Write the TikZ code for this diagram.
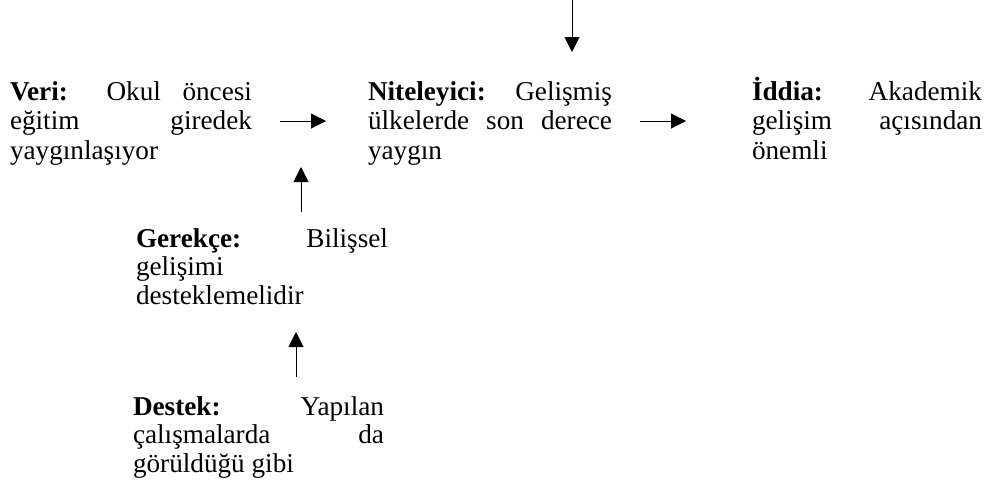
\documentclass[tikz,border=0pt]{standalone}
\usepackage{fontspec}
\setmainfont{Liberation Serif}
\usetikzlibrary{arrows.meta}
\tolerance=10000
\hbadness=10000
\hyphenpenalty=10000
\exhyphenpenalty=10000
\begin{document}
\begin{tikzpicture}[x=1pt,y=-1pt,
  txt/.style={anchor=base west,inner sep=0pt,outer sep=0pt,align=justify,
    font=\fontsize{27.2}{29.5}\selectfont},
  arr/.style={line width=1pt,-{Triangle[length=15pt,width=15pt]}}]
\useasboundingbox (0,0) rectangle (998,493);
\node[txt,text width=242pt] (veri) at (10,100)
  {\textbf{Veri:} Okul öncesi\linebreak eğitim giredek\linebreak yaygınlaşıyor};
\node[txt,text width=244pt] (nit) at (368,100)
  {\textbf{Niteleyici:} Gelişmiş\linebreak ülkelerde son derece\linebreak yaygın};
\node[txt,text width=230pt] (idd) at (752,100)
  {\textbf{İddia:} Akademik\linebreak gelişim açısından\linebreak önemli};
\node[txt,text width=252pt,font=\fontsize{27.2}{28.5}\selectfont] (ger) at (136,247)
  {\textbf{Gerekçe:} Bilişsel\linebreak gelişimi\linebreak desteklemelidir};
\node[txt,text width=251pt,font=\fontsize{27.2}{28.5}\selectfont] (des) at (133,415)
  {\textbf{Destek:} Yapılan\linebreak çalışmalarda da\linebreak görüldüğü gibi};
\coordinate (top) at (572,0);
\coordinate (topend) at (572,52);
\coordinate (a1s) at (280,121);
\coordinate (a1e) at (326,121);
\coordinate (a2s) at (640,121);
\coordinate (a2e) at (686,121);
\coordinate (g1) at (301,212);
\coordinate (g2) at (301,167);
\coordinate (d1) at (296,377);
\coordinate (d2) at (296,332);
\draw[arr] (top) -- (topend);
\draw[arr] (a1s) -- (a1e);
\draw[arr] (a2s) -- (a2e);
\draw[arr] (g1) -- (g2);
\draw[arr] (d1) -- (d2);
\end{tikzpicture}
\end{document}
